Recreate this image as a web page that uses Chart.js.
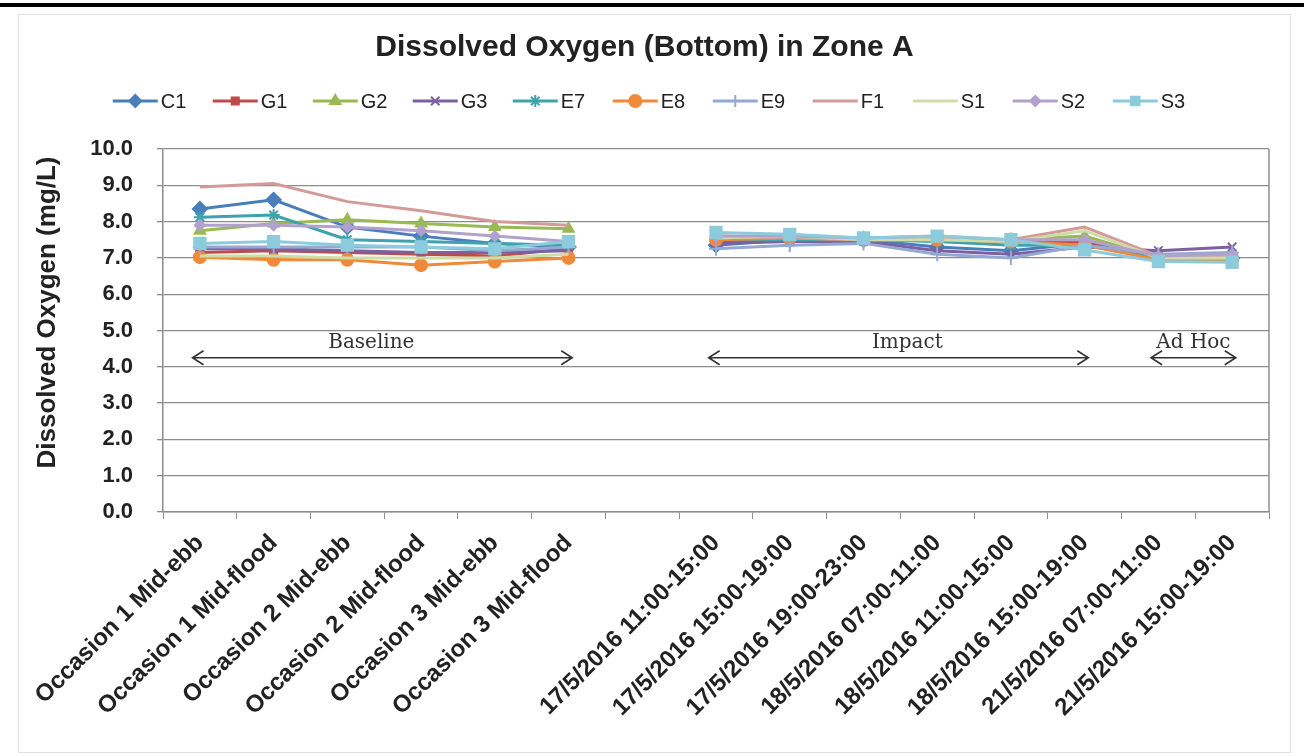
<!DOCTYPE html>
<html>
<head>
<meta charset="utf-8">
<script src="https://cdn.jsdelivr.net/npm/chart.js@4/dist/chart.umd.min.js"></script>
<style>
  html, body { margin: 0; padding: 0; background: #fff; }
  #wrap { width: 1304px; height: 756px; position: relative; }
</style>
</head>
<body>
<div id="wrap"><canvas id="Diagram1" width="1304" height="756"></canvas></div>
<script>
var categories = [
    'Occasion 1 Mid-ebb', 'Occasion 1 Mid-flood', 'Occasion 2 Mid-ebb',
    'Occasion 2 Mid-flood', 'Occasion 3 Mid-ebb', 'Occasion 3 Mid-flood', '',
    '17/5/2016 11:00-15:00', '17/5/2016 15:00-19:00', '17/5/2016 19:00-23:00',
    '18/5/2016 07:00-11:00', '18/5/2016 11:00-15:00', '18/5/2016 15:00-19:00',
    '21/5/2016 07:00-11:00', '21/5/2016 15:00-19:00'
];

// dissolved oxygen per station (mg/L), null = no survey in that slot
var C1 = [8.35, 8.6, 7.85, 7.6, 7.4, 7.3, null, 7.35, 7.5, 7.5, 7.3, 7.2, 7.4, 7.0, 7.0];
var G1 = [7.15, 7.2, 7.15, 7.1, 7.05, 7.25, null, 7.45, 7.5, 7.5, 7.5, 7.45, 7.45, 7.0, 7.0];
var G2 = [7.75, 7.95, 8.05, 7.95, 7.85, 7.8, null, 7.55, 7.6, 7.55, 7.55, 7.5, 7.6, 7.0, 7.0];
var G3 = [7.25, 7.25, 7.2, 7.15, 7.15, 7.2, null, 7.4, 7.45, 7.45, 7.2, 7.1, 7.3, 7.2, 7.3];
var E7 = [8.12, 8.18, 7.5, 7.45, 7.4, 7.35, null, 7.5, 7.5, 7.5, 7.45, 7.35, 7.35, 7.05, 7.05];
var E8 = [7.02, 6.95, 6.95, 6.8, 6.9, 7.0, null, 7.5, 7.55, 7.5, 7.5, 7.45, 7.35, 6.95, 6.95];
var E9 = [7.3, 7.3, 7.3, 7.3, 7.2, 7.3, null, 7.25, 7.35, 7.4, 7.1, 7.0, 7.35, 7.1, 7.15];
var F1 = [8.95, 9.05, 8.55, 8.3, 8.0, 7.9, null, 7.6, 7.55, 7.5, 7.55, 7.5, 7.85, 7.05, 7.05];
var S1 = [7.05, 7.05, 7.0, 7.0, 7.0, 7.1, null, 7.55, 7.6, 7.5, 7.5, 7.45, 7.75, 7.0, 7.0];
var S2 = [7.9, 7.9, 7.85, 7.75, 7.6, 7.45, null, 7.6, 7.6, 7.55, 7.6, 7.5, 7.5, 7.05, 7.1];
var S3 = [7.4, 7.45, 7.35, 7.3, 7.25, 7.45, null, 7.7, 7.65, 7.55, 7.6, 7.5, 7.22, 6.9, 6.88];

var stations = ['C1', 'G1', 'G2', 'G3', 'E7', 'E8', 'E9', 'F1', 'S1', 'S2', 'S3'];
var values = [C1, G1, G2, G3, E7, E8, E9, F1, S1, S2, S3];
var yTicks = [0, 1, 2, 3, 4, 5, 6, 7, 8, 9, 10];

// survey phases marked with a double arrow over the plot
var phaseNames = ['Baseline', 'Impact', 'Ad Hoc'];
var phaseFrom = [0, 7, 13];
var phaseTo = [5, 12, 14];

var colors = ['#4a7ebb', '#be4b48', '#98b954', '#7d60a0', '#3ea3ad', '#f08a3a',
              '#93a9d4', '#d49a98', '#cfdca8', '#b0a2cc', '#8ccbdc'];
var markers = ['rectRot', 'rect', 'triangle', 'crossRot', 'star', 'circle',
               'cross', false, false, 'rectRot', 'rect'];
var radii = [7, 5, 6, 6, 6, 6, 7, 0, 0, 5, 8];

var datasets = [];
for (var i = 0; i < stations.length; i++) {
    datasets.push({
        label: stations[i],
        data: values[i],
        borderColor: colors[i],
        backgroundColor: colors[i],
        borderWidth: 3,
        pointStyle: markers[i],
        pointRadius: radii[i],
        pointBorderWidth: 2,
        pointHoverRadius: radii[i],
        spanGaps: false,
        tension: 0,
        order: -i
    });
}

var frame = {
    id: 'frame',
    beforeDraw: function(chart) {
        var ctx = chart.ctx;
        ctx.save();
        ctx.fillStyle = '#fff';
        ctx.fillRect(0, 0, chart.width, chart.height);
        ctx.fillStyle = '#000';
        ctx.fillRect(0, 3, chart.width, 4);
        ctx.strokeStyle = '#e0e0e0';
        ctx.lineWidth = 1;
        ctx.strokeRect(18.5, 14.5, chart.width - 32, chart.height - 18);
        ctx.restore();
    },
    afterDraw: function(chart) {
        var ctx = chart.ctx;
        var xs = chart.scales.x, ys = chart.scales.y;
        var a = chart.chartArea;
        ctx.save();

        // right edge of the plot
        ctx.strokeStyle = '#8c8c8c';
        ctx.lineWidth = 1.5;
        ctx.beginPath();
        ctx.moveTo(a.right, a.top);
        ctx.lineTo(a.right, a.bottom);
        ctx.stroke();

        // y axis title, sitting a little above the axis middle
        ctx.save();
        ctx.translate(48, (a.top + a.bottom) / 2 - 18);
        ctx.rotate(-Math.PI / 2);
        ctx.font = 'bold 26px Arial';
        ctx.fillStyle = '#222';
        ctx.textAlign = 'center';
        ctx.textBaseline = 'middle';
        ctx.fillText('Dissolved Oxygen (mg/L)', 0, 0);
        ctx.restore();

        // legend: line + marker + name, fixed pitch per entry
        ctx.font = '20px Arial';
        ctx.textBaseline = 'middle';
        var lineLen = 45, gap = 3, pitch = 100;
        var last = stations.length - 1;
        var total = last * pitch + lineLen + gap + ctx.measureText(stations[last]).width;
        var x = (chart.width - total) / 2 - 3;
        var y = 101;
        for (var i = 0; i < stations.length; i++) {
            ctx.strokeStyle = colors[i];
            ctx.fillStyle = colors[i];
            ctx.lineWidth = 3;
            ctx.beginPath();
            ctx.moveTo(x, y);
            ctx.lineTo(x + lineLen, y);
            ctx.stroke();
            if (markers[i]) {
                ctx.lineWidth = 2;
                Chart.helpers.drawPoint(ctx, {
                    pointStyle: markers[i],
                    radius: Math.min(radii[i], 6),
                    borderWidth: 2,
                    rotation: 0
                }, x + lineLen / 2, y);
            }
            ctx.fillStyle = '#222';
            ctx.fillText(stations[i], x + lineLen + gap, y + 1);
            x += pitch;
        }

        // phase arrows
        var ay = ys.getPixelForValue(4.25);
        var step = xs.getPixelForValue(1) - xs.getPixelForValue(0);
        var textShift = [-0.15, 0.12, 0];
        ctx.strokeStyle = '#333';
        ctx.fillStyle = '#333';
        ctx.lineWidth = 1.6;
        ctx.font = '20px "DejaVu Serif", "Liberation Serif", serif';
        ctx.textAlign = 'center';
        ctx.textBaseline = 'alphabetic';
        for (var p = 0; p < phaseNames.length; p++) {
            var x0 = xs.getPixelForValue(phaseFrom[p]) - step * 0.1;
            var x1 = xs.getPixelForValue(phaseTo[p]) + step * 0.05;
            ctx.beginPath();
            ctx.moveTo(x0, ay);
            ctx.lineTo(x1, ay);
            ctx.moveTo(x0 + 11, ay - 7);
            ctx.lineTo(x0, ay);
            ctx.lineTo(x0 + 11, ay + 7);
            ctx.moveTo(x1 - 11, ay - 7);
            ctx.lineTo(x1, ay);
            ctx.lineTo(x1 - 11, ay + 7);
            ctx.stroke();
            ctx.fillText(phaseNames[p], (x0 + x1) / 2 + step * textShift[p], ay - 10);
        }
        ctx.restore();
    }
};

var ctx1 = document.getElementById('Diagram1').getContext('2d');
var LineChart1 = new Chart(ctx1, {
    type: 'line',
    data: {
        labels: categories,
        datasets: datasets
    },
    plugins: [frame],
    options: {
        responsive: false,
        animation: false,
        events: [],
        layout: {
            padding: { left: 20, right: 35, top: 0, bottom: 10 }
        },
        plugins: {
            legend: { display: false },
            tooltip: { enabled: false },
            title: {
                display: true,
                text: 'Dissolved Oxygen (Bottom) in Zone A',
                color: '#222',
                font: { family: 'Arial', size: 30, weight: 'bold' },
                padding: { top: 30, bottom: 83 }
            }
        },
        scales: {
            x: {
                type: 'category',
                offset: true,
                grid: {
                    display: true,
                    offset: true,
                    drawOnChartArea: false,
                    drawTicks: true,
                    tickLength: 7,
                    color: '#8c8c8c'
                },
                border: { color: '#8c8c8c', width: 1.5 },
                ticks: {
                    autoSkip: false,
                    maxRotation: 45,
                    minRotation: 45,
                    padding: 10,
                    color: '#222',
                    font: { family: 'Arial', size: 24, weight: 'bold' }
                },
                afterFit: function(scale) { scale.height = 234; }
            },
            y: {
                min: 0,
                max: 10,
                afterBuildTicks: function(scale) {
                    scale.ticks = yTicks.map(function(v) { return { value: v }; });
                },
                grid: {
                    color: '#8c8c8c',
                    tickLength: 6,
                    lineWidth: 1.3
                },
                border: { color: '#8c8c8c', width: 1.5 },
                ticks: {
                    padding: 24,
                    color: '#222',
                    font: { family: 'Arial', size: 22, weight: 'bold' },
                    callback: function(v) { return Number(v).toFixed(1); }
                },
                afterFit: function(scale) { scale.width = 143; }
            }
        }
    }
});
</script>
</body>
</html>
